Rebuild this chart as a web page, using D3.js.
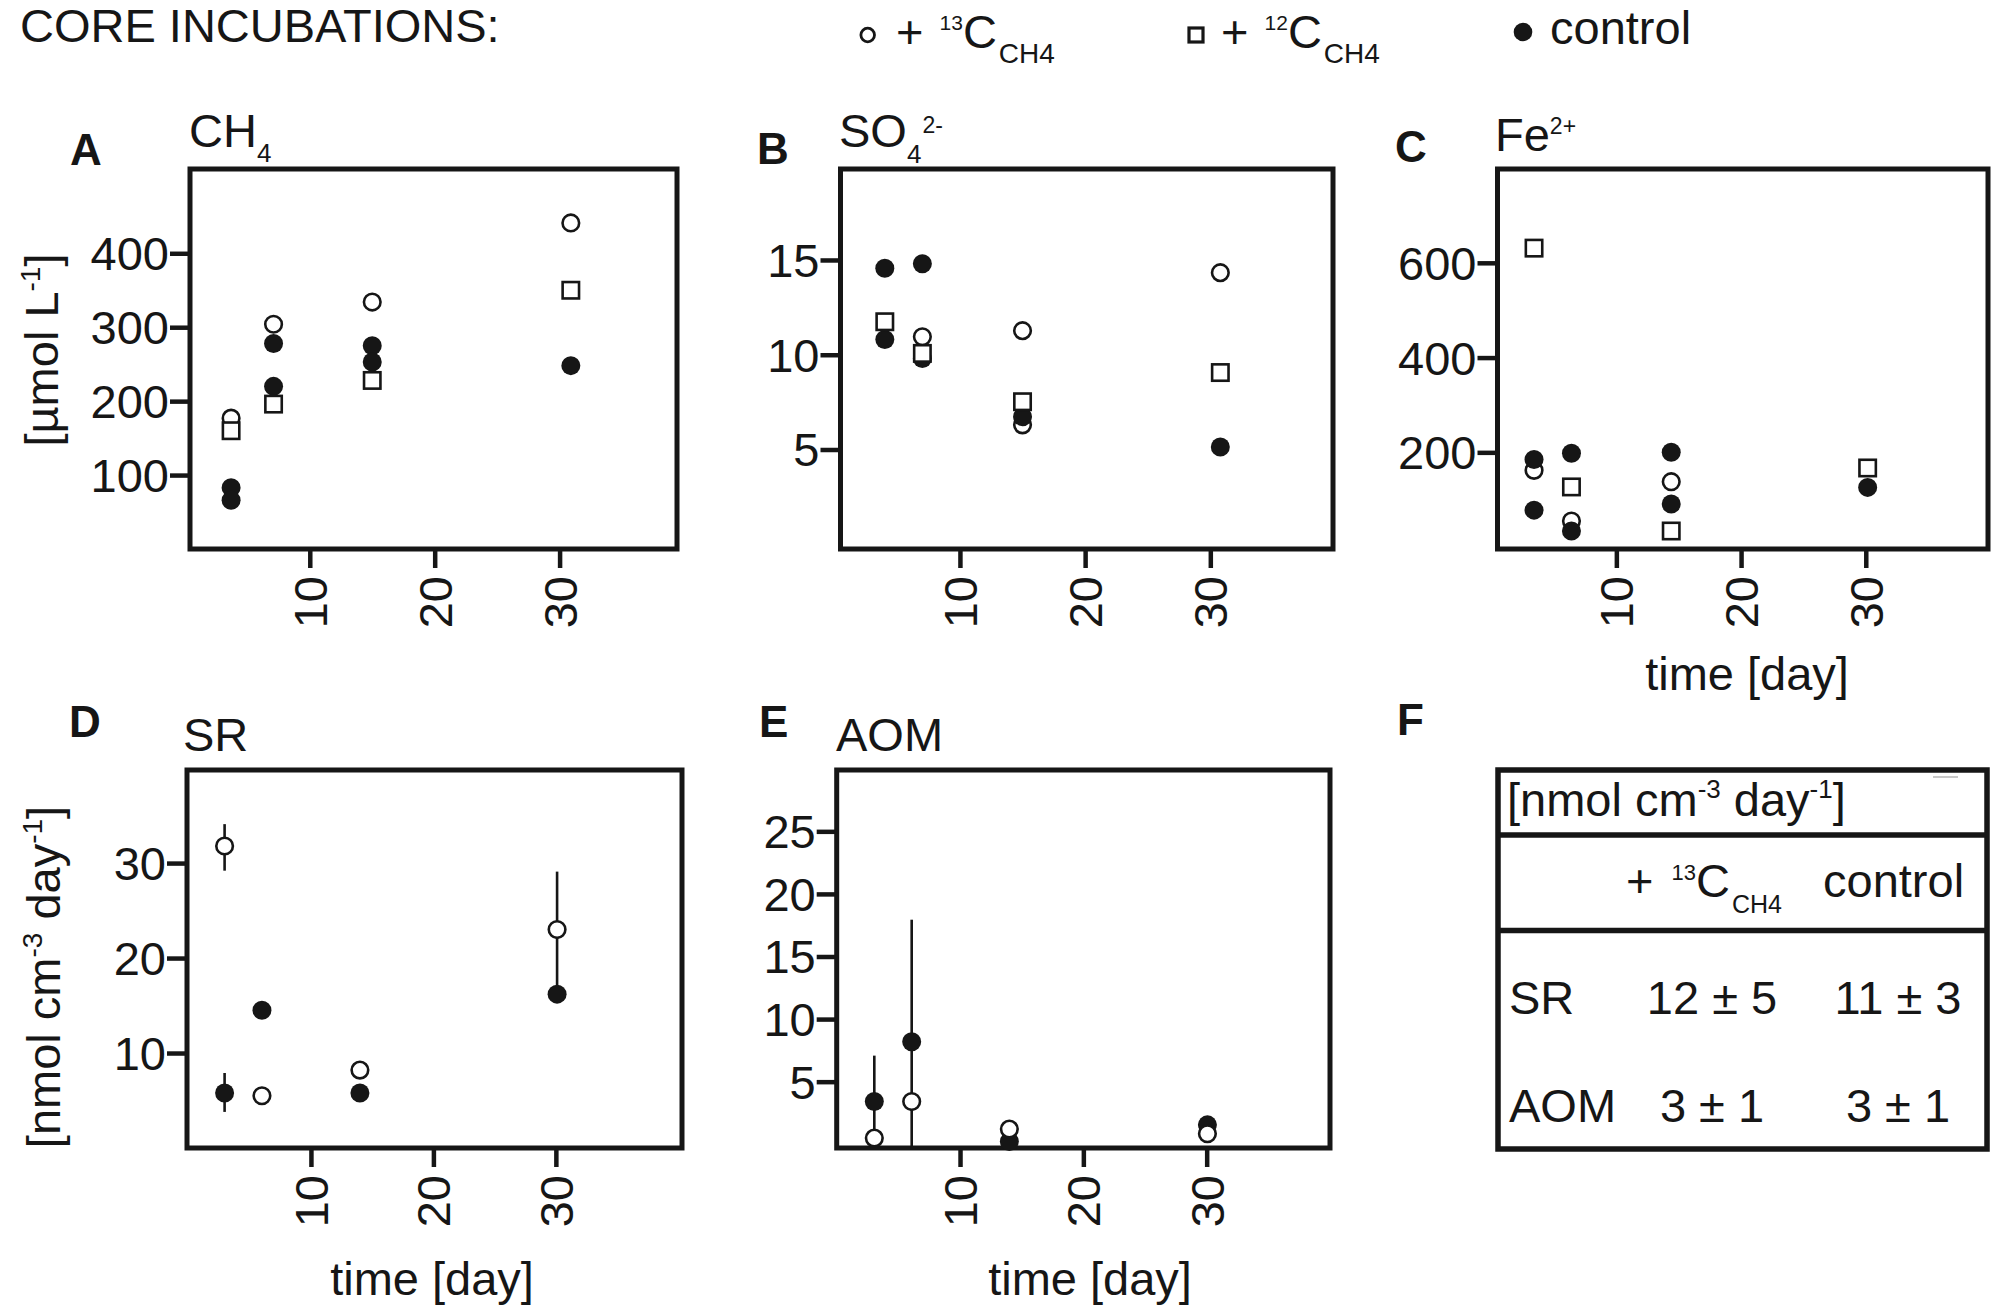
<!DOCTYPE html>
<html>
<head>
<meta charset="utf-8">
<script src="https://cdn.jsdelivr.net/npm/d3@7"></script>
<style>
  body { margin: 0; background: #fff; }
  svg { display: block; font-family: "Liberation Sans", Arial, Helvetica, sans-serif; }
</style>
</head>
<body>
<script>
/* ------------------------------ data ------------------------------ */
const xTicks = [10, 20, 30];

// A: CH4 [µmol L-1]   [day, value]
const ch4Ticks = [100, 200, 300, 400];
const ch4Labelled13 = [[3.7, 177], [7.1, 304], [15.0, 334], [30.9, 441]];
const ch4Labelled12 = [[3.7, 160], [7.1, 196], [15.0, 228], [30.9, 350]];
const ch4Control = [[3.7, 83], [3.7, 66], [7.1, 278], [7.1, 220], [15.0, 275], [15.0, 253], [30.9, 248]];

// B: SO4 2-
const so4Ticks = [5, 10, 15];
const so4Labelled13 = [[7.0, 10.95], [15.0, 11.27], [15.0, 6.3], [30.8, 14.33]];
const so4Labelled12 = [[4.0, 11.74], [7.0, 10.07], [15.0, 7.52], [30.8, 9.06]];
const so4Control = [[4.0, 14.56], [7.0, 14.8], [4.0, 10.8], [7.0, 9.8], [15.0, 6.73], [30.8, 5.13]];

// C: Fe2+
const feTicks = [200, 400, 600];
const feLabelled13 = [[3.4, 162], [6.4, 55], [14.4, 138]];
const feLabelled12 = [[3.4, 631], [6.4, 127], [14.4, 34], [30.15, 167]];
const feControl = [[3.4, 185], [3.4, 78], [6.4, 198], [6.4, 34], [14.4, 200], [14.4, 91], [30.15, 126]];

// D: SR [nmol cm-3 day-1]   error bars: [day, low, high]
const srTicks = [10, 20, 30];
const srLabelled13 = [[2.95, 31.8], [6.0, 5.5], [14.0, 8.2], [30.1, 23.0]];
const srLabelled13Err = [[2.95, 29.2, 34.1], [30.1, 17.1, 29.1]];
const srControl = [[2.95, 5.8], [6.0, 14.5], [14.0, 5.8], [30.1, 16.2]];
const srControlErr = [[2.95, 3.8, 7.9]];

// E: AOM
const aomTicks = [5, 10, 15, 20, 25];
const aomLabelled13 = [[3.05, 0.49], [6.08, 3.41], [14.0, 1.21], [30.06, 0.84]];
const aomControl = [[3.05, 3.41], [6.08, 8.19], [14.0, 0.22], [30.06, 1.55]];
const aomControlErr = [[3.05, -0.3, 7.08], [6.08, -0.3, 17.94]];

// F: table
const tableRows = ["SR", "AOM"];
const tableValues = [["12 ± 5", "11 ± 3"], ["3 ± 1", "3 ± 1"]];

/* ------------------------------------ setup ------------------------------------ */
const W = 2000, H = 1313, ink = "#161616", FS = 47;

const svg = d3.select("body").append("svg")
    .attr("width", W).attr("height", H)
    .attr("fill", ink);
svg.append("rect").attr("width", W).attr("height", H).attr("fill", "#fff");

/* ---------------------------------- markers ---------------------------------- */
function openCircles(g, data, x, y) {
    g.selectAll(null).data(data).join("circle")
        .attr("cx", d => x(d[0])).attr("cy", d => y(d[1])).attr("r", 8.3)
        .attr("fill", "#fff").attr("stroke", ink).attr("stroke-width", 2.6);
}
function filledCircles(g, data, x, y) {
    g.selectAll(null).data(data).join("circle")
        .attr("cx", d => x(d[0])).attr("cy", d => y(d[1])).attr("r", 9.5)
        .attr("fill", ink);
}
function squares(g, data, x, y) {
    const s = 16.4;
    g.selectAll(null).data(data).join("rect")
        .attr("x", d => x(d[0]) - s / 2).attr("y", d => y(d[1]) - s / 2)
        .attr("width", s).attr("height", s)
        .attr("fill", "#fff").attr("stroke", ink).attr("stroke-width", 2.6);
}
function errorBars(g, data, x, y) {
    g.selectAll(null).data(data).join("line")
        .attr("x1", d => x(d[0])).attr("x2", d => x(d[0]))
        .attr("y1", d => y(d[1])).attr("y2", d => y(d[2]))
        .attr("stroke", ink).attr("stroke-width", 2.6);
}

function styleAxis(a) {
    a.attr("font-size", FS).attr("font-family", null);
    a.select(".domain").remove();
    a.selectAll(".tick line").attr("stroke", ink).attr("stroke-width", 4.5);
    a.selectAll(".tick text").attr("fill", ink);
}

/* ----------------------------------- panels ----------------------------------- */
const panels = [
    { box: [190, 169, 677, 549], xDom: [0.41, 39.4], yDom: [0, 514], yTicks: ch4Ticks,
      draw: (g, x, y) => { openCircles(g, ch4Labelled13, x, y); filledCircles(g, ch4Control, x, y); squares(g, ch4Labelled12, x, y); } },
    { box: [840.5, 169, 1333, 549], xDom: [0.46, 39.8], yDom: [-0.25, 19.8], yTicks: so4Ticks,
      draw: (g, x, y) => { openCircles(g, so4Labelled13, x, y); filledCircles(g, so4Control, x, y); squares(g, so4Labelled12, x, y); } },
    { box: [1497.5, 169, 1988, 549], xDom: [0.47, 39.8], yDom: [-4, 798], yTicks: feTicks,
      draw: (g, x, y) => { openCircles(g, feLabelled13, x, y); filledCircles(g, feControl, x, y); squares(g, feLabelled12, x, y); } },
    { box: [187, 770, 682, 1148], xDom: [-0.12, 40.3], yDom: [0, 39.8], yTicks: srTicks,
      draw: (g, x, y) => { errorBars(g, srLabelled13Err, x, y); errorBars(g, srControlErr, x, y); filledCircles(g, srControl, x, y); openCircles(g, srLabelled13, x, y); } },
    { box: [836.7, 770, 1330, 1148], xDom: [0, 40], yDom: [-0.3, 29.9], yTicks: aomTicks,
      draw: (g, x, y) => { errorBars(g, aomControlErr, x, y); filledCircles(g, aomControl, x, y); openCircles(g, aomLabelled13, x, y); } }
];

panels.forEach(p => {
    const [l, t, r, b] = p.box;
    const x = d3.scaleLinear().domain(p.xDom).range([l, r]);
    const y = d3.scaleLinear().domain(p.yDom).range([b, t]);
    const g = svg.append("g");

    g.append("g").attr("transform", `translate(0,${b})`)
        .call(d3.axisBottom(x).tickValues(xTicks).tickSize(19).tickPadding(0).tickFormat(d3.format("d")))
        .call(styleAxis)
        .call(a => a.selectAll(".tick text")
            .attr("transform", "rotate(-90)").attr("text-anchor", "end")
            .attr("x", -27).attr("y", 0).attr("dy", "0.35em"));

    g.append("g").attr("transform", `translate(${l},0)`)
        .call(d3.axisLeft(y).tickValues(p.yTicks).tickSize(20).tickPadding(1))
        .call(styleAxis)
        .call(a => a.selectAll(".tick text").attr("dy", "0.35em"));

    g.append("rect").attr("x", l).attr("y", t).attr("width", r - l).attr("height", b - t)
        .attr("fill", "none").attr("stroke", ink).attr("stroke-width", 5);

    p.draw(g.append("g"), x, y);
});

/* ------------------------------------ texts ------------------------------------ */
function txt(xp, yp, s, size, weight) {
    return svg.append("text").attr("x", xp).attr("y", yp)
        .attr("font-size", size || FS).attr("font-weight", weight || null).text(s);
}

txt(20, 42, "CORE INCUBATIONS:");

// legend
svg.append("circle").attr("cx", 867.7).attr("cy", 35).attr("r", 6.8)
    .attr("fill", "#fff").attr("stroke", ink).attr("stroke-width", 2.8);
let lg = txt(896, 48, "+ ");
lg.append("tspan").attr("dx", 3).attr("dy", -18).attr("font-size", 21).text("13");
lg.append("tspan").attr("dy", 18).text("C");
lg.append("tspan").attr("dx", 2).attr("dy", 15).attr("font-size", 28).text("CH4");

svg.append("rect").attr("x", 1189).attr("y", 28).attr("width", 14).attr("height", 14)
    .attr("fill", "#fff").attr("stroke", ink).attr("stroke-width", 3.2);
lg = txt(1221, 48, "+ ");
lg.append("tspan").attr("dx", 3).attr("dy", -18).attr("font-size", 21).text("12");
lg.append("tspan").attr("dy", 18).text("C");
lg.append("tspan").attr("dx", 2).attr("dy", 15).attr("font-size", 28).text("CH4");

svg.append("circle").attr("cx", 1523).attr("cy", 32).attr("r", 9.3).attr("fill", ink);
txt(1550, 44, "control");

// panel letters
[["A", 70, 165], ["B", 757, 164], ["C", 1395, 162], ["D", 69, 737], ["E", 759, 737], ["F", 1397, 735]]
    .forEach(d => txt(d[1], d[2], d[0], 44, "bold"));

// panel titles
let tt = txt(189, 147, "CH");
tt.append("tspan").attr("dy", 15).attr("font-size", 26).text("4");
tt = txt(839, 147, "SO");
tt.append("tspan").attr("dy", 16).attr("font-size", 26).text("4");
tt.append("tspan").attr("dx", 1).attr("dy", -30).attr("font-size", 23).text("2-");
tt = txt(1495, 151, "Fe");
tt.append("tspan").attr("dy", -17).attr("font-size", 23).text("2+");
txt(183, 751, "SR");
txt(836, 751, "AOM");

// axis titles
let yl = svg.append("text").attr("transform", "translate(58,350) rotate(-90)")
    .attr("text-anchor", "middle").attr("font-size", FS).text("[µmol L");
yl.append("tspan").attr("dy", -18).attr("font-size", 28).text("-1");
yl.append("tspan").attr("dy", 18).text("]");

yl = svg.append("text").attr("transform", "translate(60,977) rotate(-90)")
    .attr("text-anchor", "middle").attr("font-size", FS).text("[nmol cm");
yl.append("tspan").attr("dy", -18).attr("font-size", 28).text("-3");
yl.append("tspan").attr("dy", 18).text(" day");
yl.append("tspan").attr("dy", -18).attr("font-size", 28).text("-1");
yl.append("tspan").attr("dy", 18).text("]");

[[1747, 690], [432, 1295], [1090, 1295]].forEach(d =>
    txt(d[0], d[1], "time [day]").attr("text-anchor", "middle"));

/* ------------------------------------ table F ------------------------------------ */
const tb = { l: 1498, t: 770, r: 1987, b: 1149, s1: 835, s2: 930.5 };
svg.append("rect").attr("x", tb.l).attr("y", tb.t).attr("width", tb.r - tb.l).attr("height", tb.b - tb.t)
    .attr("fill", "none").attr("stroke", ink).attr("stroke-width", 5.5);
[tb.s1, tb.s2].forEach(v => svg.append("line").attr("x1", tb.l).attr("x2", tb.r)
    .attr("y1", v).attr("y2", v).attr("stroke", ink).attr("stroke-width", 5.5));
svg.append("line").attr("x1", 1933).attr("x2", 1958).attr("y1", 777).attr("y2", 777)
    .attr("stroke", "#c8c8c8").attr("stroke-width", 2);

let th = txt(1507, 816, "[nmol cm");
th.append("tspan").attr("dy", -18).attr("font-size", 26).text("-3");
th.append("tspan").attr("dy", 18).text(" day");
th.append("tspan").attr("dy", -18).attr("font-size", 26).text("-1");
th.append("tspan").attr("dy", 18).text("]");

th = txt(1626, 897, "+ ");
th.append("tspan").attr("dx", 5).attr("dy", -17).attr("font-size", 22).text("13");
th.append("tspan").attr("dy", 17).text("C");
th.append("tspan").attr("dx", 2).attr("dy", 16).attr("font-size", 25).text("CH4");
txt(1823, 897, "control");

const rowBase = [1014, 1122], colMid = [1712, 1898];
tableRows.forEach((rw, i) => {
    txt(1509, rowBase[i], rw);
    tableValues[i].forEach((v, j) => txt(colMid[j], rowBase[i], v).attr("text-anchor", "middle"));
});
</script>
</body>
</html>
